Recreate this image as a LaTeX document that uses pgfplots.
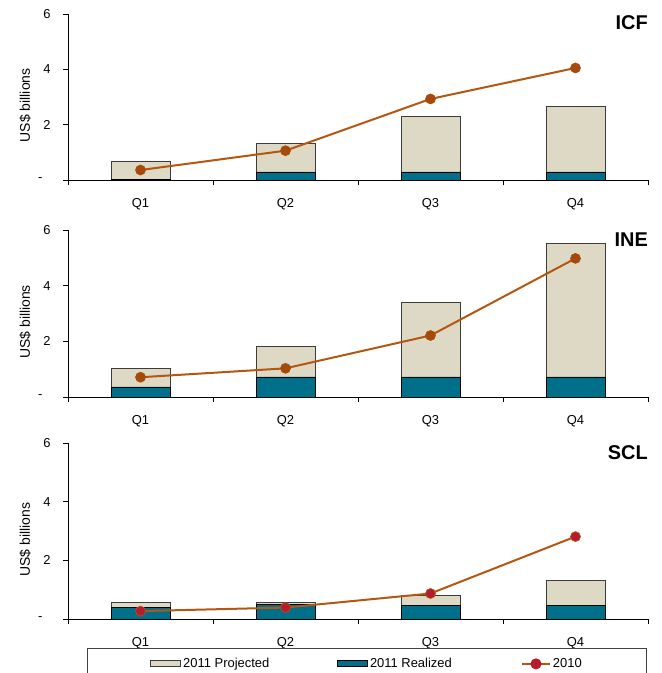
\documentclass[border=0pt]{standalone}
\usepackage{fontspec}
\setmainfont{Liberation Sans}
\usepackage{pgfplots}
\pgfplotsset{compat=1.18}

\definecolor{projtan}{RGB}{221,217,196}
\definecolor{realteal}{RGB}{0,111,138}
\definecolor{linebrown}{RGB}{181,86,17}
\definecolor{markbrown}{RGB}{165,74,10}
\definecolor{markred}{RGB}{183,28,46}
\definecolor{baredge}{RGB}{60,60,60}

\tikzset{paneltitle/.style={anchor=north east, inner sep=0pt, font=\bfseries\fontsize{20}{22}\selectfont}}

\pgfplotsset{
  panel/.style={
    scale only axis,
    width=580bp,
    xmin=-0.5, xmax=3.5,
    ymin=0, ymax=6,
    clip=false,
    axis lines*=left,
    axis line style={-, line width=0.8bp, black},
    tick align=outside,
    major tick length=5bp,
    tick style={line width=0.8bp, black},
    xtick={-0.5,0.5,1.5,2.5,3.5},
    x tick label as interval,
    xticklabels={Q1,Q2,Q3,Q4},
    ytick={0,2,4,6},
    yticklabels={{-\hspace*{8bp}},2,4,6},
    tick label style={font=\fontsize{13}{15}\selectfont},
    xticklabel style={yshift=-10bp},
    yticklabel style={xshift=-9bp},
    ylabel={US\$ billions},
    every axis y label/.style={at={(axis description cs:-0.074,0.45)}, anchor=center, rotate=90, font=\fontsize{14}{16}\selectfont},
  },
  projbar/.style={ybar, bar width=59bp, bar shift=0pt, fill=projtan, draw=baredge, line width=0.8bp},
  realbar/.style={ybar, bar width=59bp, bar shift=0pt, fill=realteal, draw=black, line width=0.8bp},
  line2010/.style={sharp plot, color=linebrown, line width=2bp, mark=*, mark size=5bp},
}

\begin{document}
\begin{tikzpicture}
\path[use as bounding box] (0bp,0bp) rectangle (662bp,-673bp);

% ICF
\begin{axis}[panel, height=166bp, at={(68bp,-180bp)}, anchor=south west]
\addplot[projbar] coordinates {(0,0.69) (1,1.33) (2,2.30) (3,2.66)};
\addplot[realbar] coordinates {(0,0.03) (1,0.29) (2,0.29) (3,0.29)};
\addplot[line2010, mark options={fill=markbrown, draw=markbrown, line width=0.6bp}] coordinates {(0,0.36) (1,1.06) (2,2.93) (3,4.05)};
\node[paneltitle] at (rel axis cs:1,1) [yshift=-1bp] {ICF};
\end{axis}

% INE
\begin{axis}[panel, height=167bp, at={(68bp,-397bp)}, anchor=south west]
\addplot[projbar] coordinates {(0,1.01) (1,1.81) (2,3.39) (3,5.52)};
\addplot[realbar] coordinates {(0,0.36) (1,0.72) (2,0.72) (3,0.72)};
\addplot[line2010, mark options={fill=markbrown, draw=markbrown, line width=0.6bp}] coordinates {(0,0.71) (1,1.03) (2,2.21) (3,4.98)};
\node[paneltitle] at (rel axis cs:1,1) [yshift=-3bp] {INE};
\end{axis}

% SCL
\begin{axis}[panel, height=176bp, at={(68bp,-619bp)}, anchor=south west,
  legend columns=3,
  legend style={at={(axis description cs:0.0328,-0.165)}, anchor=north west,
    draw=black!75, line width=0.8bp, inner xsep=63bp, inner ysep=8bp,
    font=\fontsize{13}{15}\selectfont,
    /tikz/every even column/.append style={column sep=0bp}},
  legend cell align=left]
\addplot[projbar, legend image code/.code={\draw[fill=projtan, draw=baredge, line width=0.8bp] (0bp,-3bp) rectangle (30bp,3bp);}]
  coordinates {(0,0.56) (1,0.56) (2,0.79) (3,1.31)};
\addlegendentry{\makebox[152bp][l]{2011 Projected}}
\addplot[realbar, legend image code/.code={\draw[fill=realteal, draw=black, line width=0.8bp] (0bp,-3bp) rectangle (30bp,3bp);}]
  coordinates {(0,0.40) (1,0.49) (2,0.47) (3,0.47)};
\addlegendentry{\makebox[149bp][l]{2011 Realized}}
\addplot[line2010, mark options={fill=markred, draw=linebrown, line width=0.6bp},
  legend image code/.code={\draw[linebrown, line width=2bp] (0bp,0bp) -- (28bp,0bp); \fill[markred] (14bp,0bp) circle (4.5bp);}]
  coordinates {(0,0.27) (1,0.39) (2,0.87) (3,2.81)};
\addlegendentry{2010}
\node[paneltitle] at (rel axis cs:1,1) [yshift=-2bp] {SCL};
\end{axis}
\end{tikzpicture}
\end{document}
